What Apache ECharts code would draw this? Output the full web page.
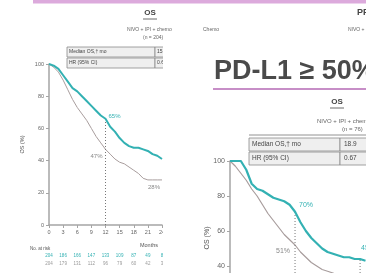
<!DOCTYPE html>
<html>
<head>
<meta charset="utf-8">
<script src="https://cdn.jsdelivr.net/npm/echarts@6/dist/echarts.min.js"></script>
<style>
html, body { margin: 0; padding: 0; background: #fff; }
#chart { width: 366px; height: 273px; }
</style>
</head>
<body>
<div id="chart"></div>
<script>
// PD-L1 >= 1% panel (left)
const leftMonths = [0,1,2,3,4,5,6,7,8,9,10,11,12,13,14,15,16,17,18,19,20,21,22,23,24];
const leftNivo   = [100,99,97,93,89,85,83,80,77,74,71,68,66,61,58,54,51,49,48,48,47,46,44,43,41];
const leftChemo  = [100,98,95,90,84,78,73,69,65,60,55,51,47,44,41,39,38,36,34,32,29,28,28,28,28];
const riskMonths = [0,3,6,9,12,15,18,21,24];
const riskNivo   = [204,186,166,147,133,109,87,49,8];
const riskChemo  = [204,179,131,112,96,79,60,42,3];

// PD-L1 >= 50% panel (right, cropped)
const rightMonths = [0,1,2,3,4,5,6,7,8,9,10,11,12,13,14,15,16,17,18,19,20,21,22,23,24,25];
const rightNivo   = [100,100,100,95,87,84,83,81,79,78,77,75,71,65,60,56,53,50,48,47,46,45,45,44,44,43];
const rightChemo  = [100,97,93,89,84,80,75,70,66,62,58,55,52,48,45,42,40,38,37,36,34,33,32,31,30,29];

const TEAL = '#33b1b3';
const GREY = '#a89d9d';
const FONT = '"Liberation Sans", Arial, sans-serif';

const chart = echarts.init(document.getElementById('chart'));

const pairs = (xs, ys) => xs.map((x, i) => [x, ys[i]]);

const axisLine = { lineStyle: { color: '#a5a5a5', width: 1.5 } };
const axisTick = { length: 3, lineStyle: { color: '#a5a5a5' } };

chart.setOption({
  animation: false,
  grid: [
    { left: 49, top: 64, width: 113, height: 161, outerBoundsMode: 'none' },
    { left: 230, top: 161, width: 135.5, height: 175, outerBoundsMode: 'none' }
  ],
  xAxis: [
    {
      gridIndex: 0, type: 'value', min: 0, max: 24, interval: 3,
      axisLine, axisTick, splitLine: { show: false },
      axisLabel: { fontSize: 5.5, color: '#666', fontFamily: FONT, margin: 4 }
    },
    {
      gridIndex: 1, type: 'value', min: 0, max: 25, z: 20,
      axisLine, axisTick, splitLine: { show: false },
      axisLabel: { show: false }
    }
  ],
  yAxis: [
    {
      gridIndex: 0, type: 'value', min: 0, max: 100, interval: 20,
      axisLine, axisTick, splitLine: { show: false },
      axisLabel: { fontSize: 5.5, color: '#666', fontFamily: FONT, margin: 5 },
      name: 'OS (%)', nameLocation: 'middle', nameRotate: 90, nameGap: 24,
      nameTextStyle: { fontSize: 5.5, color: '#555', fontFamily: FONT }
    },
    {
      gridIndex: 1, type: 'value', min: 0, max: 100, interval: 20, z: 20,
      axisLine, axisTick, splitLine: { show: false },
      axisLabel: { fontSize: 7, color: '#666', fontFamily: FONT, margin: 5 }
    }
  ],
  series: [
    {
      name: 'Chemo', type: 'line', xAxisIndex: 0, yAxisIndex: 0,
      data: pairs(leftMonths, leftChemo), showSymbol: false, z: 2,
      lineStyle: { color: GREY, width: 1 }
    },
    {
      name: 'NIVO + IPI + chemo', type: 'line', xAxisIndex: 0, yAxisIndex: 0,
      data: pairs(leftMonths, leftNivo), showSymbol: false, z: 3,
      lineStyle: { color: TEAL, width: 2 }
    },
    {
      type: 'line', xAxisIndex: 0, yAxisIndex: 0, showSymbol: false, z: 2,
      data: [[12, 0], [12, leftNivo[12]]],
      lineStyle: { color: '#777', width: 1, type: [1, 2] }
    },
    {
      name: 'Chemo', type: 'line', xAxisIndex: 1, yAxisIndex: 1,
      data: pairs(rightMonths, rightChemo), showSymbol: false, z: 20,
      lineStyle: { color: GREY, width: 1.2 }
    },
    {
      name: 'NIVO + IPI + chemo', type: 'line', xAxisIndex: 1, yAxisIndex: 1,
      data: pairs(rightMonths, rightNivo), showSymbol: false, z: 21,
      lineStyle: { color: TEAL, width: 2.2 }
    },
    {
      type: 'line', xAxisIndex: 1, yAxisIndex: 1, showSymbol: false, z: 20,
      data: [[12, 0], [12, rightNivo[12]]],
      lineStyle: { color: '#777', width: 1, type: [1, 2] }
    },
    {
      type: 'line', xAxisIndex: 1, yAxisIndex: 1, showSymbol: false, z: 20,
      data: [[24, 0], [24, rightNivo[24]]],
      lineStyle: { color: '#777', width: 1, type: [1, 2] }
    }
  ]
});

// text and boxes, placed from the axes
const L = (m, v) => chart.convertToPixel({ gridIndex: 0 }, [m, v]);
const R = (m, v) => chart.convertToPixel({ gridIndex: 1 }, [m, v]);

const txt = (x, y, text, size, color, opts = {}) => ({
  type: 'text', z: opts.z || 5,
  style: {
    x, y, text, fill: color,
    font: (opts.bold ? 'bold ' : '') + size + 'px ' + FONT,
    textAlign: opts.align || 'left', align: opts.align || 'left',
    textVerticalAlign: 'middle', verticalAlign: 'middle'
  }
});
const box = (x, y, w, h, z) => ({
  type: 'rect', z: z || 4,
  shape: { x, y, width: w, height: h },
  style: { fill: '#efefef', stroke: '#8c8c8c', lineWidth: 0.8 }
});
const line = (x1, y1, x2, y2, color, w, z) => ({
  type: 'line', z: z || 5,
  shape: { x1, y1, x2, y2 },
  style: { stroke: color, lineWidth: w }
});

const g = [];
// top pink band
g.push({ type: 'rect', z: 5, shape: { x: 33, y: 0, width: 333, height: 3.5 }, style: { fill: '#dcaadc' } });

// left panel header and table
g.push(txt(150, 13, 'OS', 8, '#444', { bold: true, align: 'center' }));
g.push(line(143, 19, 157, 19, '#444', 0.8));
g.push(txt(127, 30, 'NIVO + IPI + chemo', 5, '#666'));
g.push(txt(203, 30, 'Chemo', 5, '#666'));
g.push(txt(143, 38, '(n = 204)', 5, '#666'));
g.push(box(67, 47, 88, 10), box(155, 47, 40, 10), box(67, 58, 88, 10), box(155, 58, 40, 10));
g.push(txt(69, 52, 'Median OS,† mo', 5, '#444'));
g.push(txt(69, 63, 'HR (95% CI)', 5, '#444'));
g.push(txt(157, 52, '15.8', 5, '#444'));
g.push(txt(157, 63, '0.64', 5, '#444'));

// left curve labels
let p = L(12, leftNivo[12]);
g.push(txt(p[0] + 3, p[1] - 2, '65%', 6, TEAL));
p = L(12, leftChemo[12]);
g.push(txt(p[0] - 3, p[1] + 7, '47%', 6, '#888', { align: 'right' }));
p = L(24, leftChemo[24]);
g.push(txt(p[0] - 2, p[1] + 7, '28%', 6, '#888', { align: 'right' }));

g.push(txt(158, 245, 'Months', 5.5, '#555', { align: 'right' }));
g.push(txt(30, 249, 'No. at risk', 4.5, '#555'));
riskMonths.forEach((m, i) => {
  const x = L(m, 0)[0];
  g.push(txt(x, 256, String(riskNivo[i]), 4.5, TEAL, { align: 'center' }));
  g.push(txt(x, 264, String(riskChemo[i]), 4.5, '#999', { align: 'center' }));
});

// right panel covers the left one
g.push({ type: 'rect', z: 10, shape: { x: 163, y: 44, width: 203, height: 229 }, style: { fill: '#fff' } });

// top-right cropped PFS header
g.push(txt(357, 13, 'PFS', 9, '#444', { bold: true, z: 30 }));
g.push(txt(348, 30, 'NIVO + IPI + chemo', 5, '#666', { z: 30 }));

// PD-L1 >= 50% heading
g.push(txt(214, 72, 'PD-L1 ≥ 50%:', 27, '#4a4a4a', { bold: true, z: 30 }));
g.push(line(213, 89, 366, 89, '#b468b4', 1.6, 30));
g.push(txt(337, 102, 'OS', 8, '#444', { bold: true, align: 'center', z: 30 }));
g.push(line(330, 108, 344, 108, '#444', 0.8, 30));
g.push(txt(317, 121, 'NIVO + IPI + chemo', 6, '#666', { z: 30 }));
g.push(txt(342, 129, '(n = 76)', 6, '#666', { z: 30 }));
g.push(line(249, 135, 366, 135, '#777', 0.8, 30));
g.push(box(249, 138, 91, 13, 30), box(340, 138, 40, 13, 30), box(249, 152, 91, 13, 30), box(340, 152, 40, 13, 30));
g.push(txt(252, 144.5, 'Median OS,† mo', 6.5, '#444', { z: 31 }));
g.push(txt(252, 158.5, 'HR (95% CI)', 6.5, '#444', { z: 31 }));
g.push(txt(344, 144.5, '18.9', 6.5, '#444', { z: 31 }));
g.push(txt(344, 158.5, '0.67', 6.5, '#444', { z: 31 }));
const osLabel = txt(0, 0, 'OS (%)', 7, '#555', { z: 31, align: 'center' });
osLabel.x = 207; osLabel.y = 238; osLabel.rotation = Math.PI / 2;
g.push(osLabel);

// right curve labels
p = R(12, rightNivo[12]);
g.push(txt(p[0] + 4, p[1] - 7, '70%', 7, TEAL, { z: 31 }));
p = R(12, rightChemo[12]);
g.push(txt(p[0] - 5, p[1] + 6, '51%', 7, '#888', { align: 'right', z: 31 }));
p = R(24, rightNivo[24]);
g.push(txt(p[0] + 1, p[1] - 11, '45%', 7, TEAL, { z: 31 }));

chart.setOption({ graphic: { elements: g } });
</script>
</body>
</html>
